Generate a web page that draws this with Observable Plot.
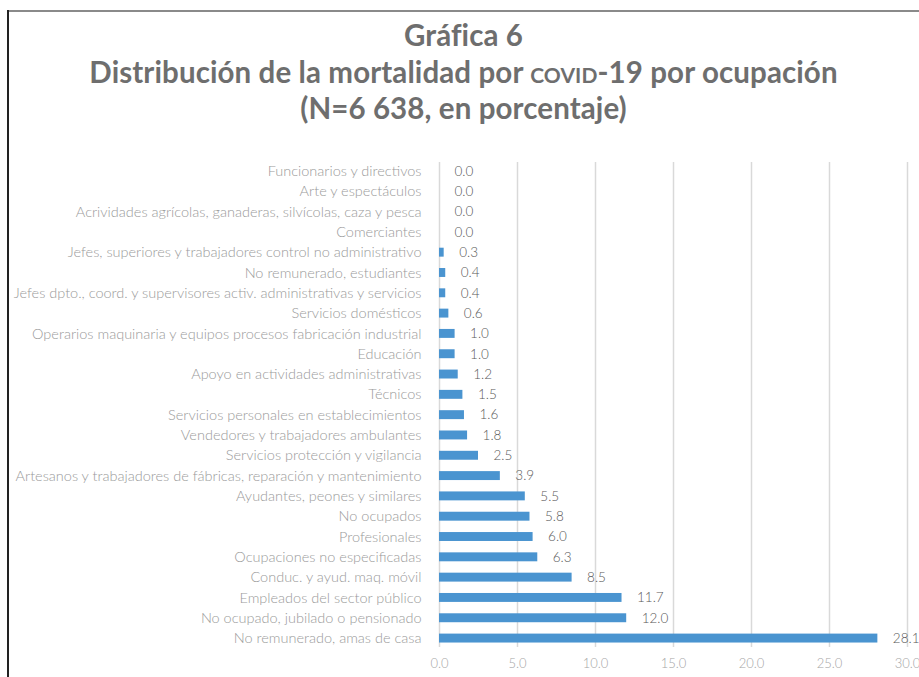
<!DOCTYPE html>
<html>
<head>
<meta charset="utf-8">
<script src="https://cdn.jsdelivr.net/npm/d3@7"></script>
<script src="https://cdn.jsdelivr.net/npm/@observablehq/plot@0.6"></script>
<style>
  html, body { margin: 0; padding: 0; background: #fff; }
  #frame { position: relative; width: 919px; height: 677px; overflow: hidden; }
  #topline { position: absolute; left: 7px; top: 10px; width: 912px; height: 2px; background: #8a8a8a; }
  #leftline { position: absolute; left: 7px; top: 10px; width: 2px; height: 667px; background: #222; }
  #title { position: absolute; left: 8px; top: 17px; width: 911px; text-align: center;
           font-family: Lato, "Open Sans", sans-serif; font-weight: 700; color: #6e6e6e;
           font-size: 29.5px; line-height: 36.5px; letter-spacing: 0.1px; }
  .sc { font-variant: small-caps; }
  #chart { position: absolute; left: 0; top: 152px; }
</style>
</head>
<body>
<div id="frame">
  <div id="topline"></div>
  <div id="leftline"></div>
  <div id="title">
    <div>Gráfica 6</div>
    <div>Distribución de la mortalidad por <span class="sc">covid</span>-19 por ocupación</div>
    <div>(N=6 638, en porcentaje)</div>
  </div>
  <div id="chart"></div>
</div>
<script>
const categories = [
  "Funcionarios y directivos",
  "Arte y espectáculos",
  "Acrividades agrícolas, ganaderas, silvícolas, caza y pesca",
  "Comerciantes",
  "Jefes, superiores y trabajadores control no administrativo",
  "No remunerado, estudiantes",
  "Jefes dpto., coord. y supervisores activ. administrativas y servicios",
  "Servicios domésticos",
  "Operarios maquinaria y equipos procesos fabricación industrial",
  "Educación",
  "Apoyo en actividades administrativas",
  "Técnicos",
  "Servicios personales en establecimientos",
  "Vendedores y trabajadores ambulantes",
  "Servicios protección y vigilancia",
  "Artesanos y trabajadores de fábricas, reparación y mantenimiento",
  "Ayudantes, peones y similares",
  "No ocupados",
  "Profesionales",
  "Ocupaciones no especificadas",
  "Conduc. y ayud. maq. móvil",
  "Empleados del sector público",
  "No ocupado, jubilado o pensionado",
  "No remunerado, amas de casa"
];
const values = [0.0, 0.0, 0.0, 0.0, 0.3, 0.4, 0.4, 0.6, 1.0, 1.0, 1.2, 1.5, 1.6, 1.8, 2.5, 3.9, 5.5, 5.8, 6.0, 6.3, 8.5, 11.7, 12.0, 28.1];
const xTicks = [0, 5, 10, 15, 20, 25, 30];

const data = categories.map((c, i) => ({ cat: c, value: values[i] }));
const fmt = d3.format(".1f");

const chart = Plot.plot({
  width: 919,
  height: 525,
  marginLeft: 439,
  marginRight: 12,
  marginTop: 10,
  marginBottom: 30,
  style: { fontFamily: "Lato, 'Open Sans', sans-serif", background: "transparent" },
  x: { domain: [0, 30], ticks: xTicks, tickFormat: fmt, label: null },
  y: { domain: categories, label: null, paddingInner: 0.56, paddingOuter: 0.22, round: false },
  marks: [
    Plot.gridX(xTicks, { stroke: "#d9d9d9", strokeOpacity: 1, strokeWidth: 1.5 }),
    Plot.barX(data, { x: "value", y: "cat", fill: "#4a94d0" }),
    Plot.text(data, { x: "value", y: "cat", text: d => fmt(d.value), textAnchor: "start", dx: 15,
      fill: "#595959", fontSize: 13.5, fontWeight: 300 }),
    Plot.axisX(xTicks, { tickSize: 0, tickPadding: 11, tickFormat: fmt, fill: "#a6a6a6", fontSize: 13, fontWeight: 300, label: null }),
    Plot.axisY({ tickSize: 0, tickPadding: 18, fill: "#9a9a9a", fontSize: 14.5, fontWeight: 300, label: null })
  ]
});
document.getElementById("chart").appendChild(chart);
</script>
</body>
</html>
